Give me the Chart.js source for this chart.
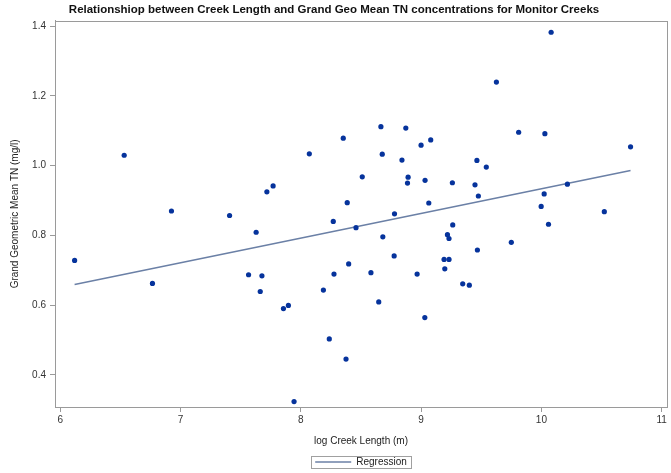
<!DOCTYPE html>
<html>
<head>
<meta charset="utf-8">
<script src="https://cdn.jsdelivr.net/npm/chart.js@4.4.1/dist/chart.umd.min.js"></script>
<style>
  html,body{margin:0;padding:0;background:#fff;}
  #wrap{width:671px;height:473px;}
</style>
</head>
<body>
<div id="wrap"><canvas id="c" width="671" height="473"></canvas></div>
<script>
// ==================== Data ====================
// log creek length (x) and grand geo mean TN (y)
const logLength=[6.12,6.532,6.767,6.925,7.408,7.566,7.629,7.663,7.677,7.718,7.77,7.856,7.897,7.944,8.071,8.188,8.237,8.27,8.276,8.353,8.376,8.386,8.398,8.459,8.511,8.583,8.648,8.666,8.677,8.682,8.776,8.779,8.841,8.873,8.887,8.892,8.967,9.0,9.031,9.033,9.064,9.08,9.191,9.197,9.219,9.232,9.232,9.26,9.263,9.346,9.401,9.448,9.464,9.468,9.476,9.542,9.626,9.75,9.811,9.998,10.023,10.029,10.059,10.081,10.216,10.523,10.741];
const geoMeanTN=[0.728,1.03,0.662,0.87,0.857,0.687,0.809,0.639,0.684,0.925,0.942,0.59,0.599,0.323,1.034,0.643,0.503,0.84,0.689,1.079,0.445,0.894,0.718,0.822,0.968,0.693,0.609,1.112,1.033,0.796,0.741,0.862,1.016,1.108,0.95,0.967,0.689,1.059,0.564,0.958,0.893,1.074,0.731,0.704,0.802,0.731,0.791,0.951,0.83,0.661,0.657,0.945,1.015,0.758,0.913,0.996,1.24,0.78,1.096,0.883,0.919,1.092,0.832,1.383,0.947,0.868,1.054];

// regression line end points
const regX=[6.12,10.741];
const regY=[0.659,0.986];

const xTicks=[6,7,8,9,10,11];
const yTicks=[0.4,0.6,0.8,1.0,1.2,1.4];

const titleText="Relationshiop between Creek Length and Grand Geo Mean TN concentrations for Monitor Creeks";
const xTitle="log Creek Length (m)";
const yTitle="Grand Geometric Mean TN (mg/l)";

// ========================================================
const pts=logLength.map((x,i)=>({x:x,y:geoMeanTN[i]}));
const reg=regX.map((x,i)=>({x:x,y:regY[i]}));

const axisGray="#9a9a9a";
const fam="'Liberation Sans', Arial, sans-serif";
const tickFont={family:fam,size:10};

// frame round the plot + border round the legend item
const framePlugin={
  id:"frame",
  afterDraw(chart){
    const ctx=chart.ctx, a=chart.chartArea;
    ctx.save();
    ctx.strokeStyle=axisGray;
    ctx.lineWidth=1;
    ctx.strokeRect(Math.round(a.left)+0.5,Math.round(a.top)+0.5,Math.round(a.right-a.left),Math.round(a.bottom-a.top));
    const hb=chart.legend.legendHitBoxes[0];
    if(hb){
      ctx.strokeStyle="#a0a0a0";
      ctx.strokeRect(Math.round(hb.left-4)+0.5,Math.round(hb.top-1)+0.5,Math.round(hb.width+8),Math.round(hb.height+2));
    }
    ctx.restore();
  }
};

new Chart(document.getElementById("c"),{
  type:"scatter",
  data:{
    datasets:[
      {
        label:"points",
        data:pts,
        backgroundColor:"#06339c",
        borderWidth:0,
        pointRadius:2.6,
        order:1
      },
      {
        label:"Regression",
        data:reg,
        showLine:true,
        borderColor:"#6b80a6",
        backgroundColor:"#6b80a6",
        borderWidth:1.6,
        pointRadius:0,
        order:2
      }
    ]
  },
  options:{
    responsive:false,
    animation:false,
    layout:{padding:{left:0,right:3,top:0,bottom:-4}},
    plugins:{
      title:{
        display:true,
        text:titleText,
        color:"#111",
        font:{family:fam,size:11.5,weight:"bold"},
        padding:{top:3,bottom:4}
      },
      legend:{
        position:"bottom",
        fullSize:false,
        labels:{
          filter:item=>item.text==="Regression",
          usePointStyle:true,
          pointStyle:"line",
          pointStyleWidth:36,
          color:"#222",
          font:tickFont,
          padding:3
        }
      },
      tooltip:{enabled:false}
    },
    scales:{
      x:{
        type:"linear",
        min:5.957,
        max:11.044,
        afterBuildTicks:s=>{s.ticks=xTicks.map(v=>({value:v}));},
        afterFit:s=>{s.height=47;},
        grid:{drawOnChartArea:false,drawTicks:true,tickLength:5,color:axisGray},
        border:{color:axisGray},
        ticks:{color:"#333",font:tickFont,padding:2,callback:v=>String(v)},
        title:{display:true,text:xTitle,color:"#222",font:tickFont,padding:{top:6,bottom:7}}
      },
      y:{
        type:"linear",
        min:0.3075,
        max:1.4158,
        afterBuildTicks:s=>{s.ticks=yTicks.map(v=>({value:v}));},
        afterFit:s=>{s.width=55;},
        grid:{drawOnChartArea:false,drawTicks:true,tickLength:5,color:axisGray},
        border:{color:axisGray},
        ticks:{color:"#333",font:tickFont,padding:4,callback:v=>Number(v).toFixed(1)},
        title:{display:true,text:yTitle,color:"#222",font:tickFont,padding:{top:9,bottom:0}}
      }
    }
  },
  plugins:[framePlugin]
});
</script>
</body>
</html>
